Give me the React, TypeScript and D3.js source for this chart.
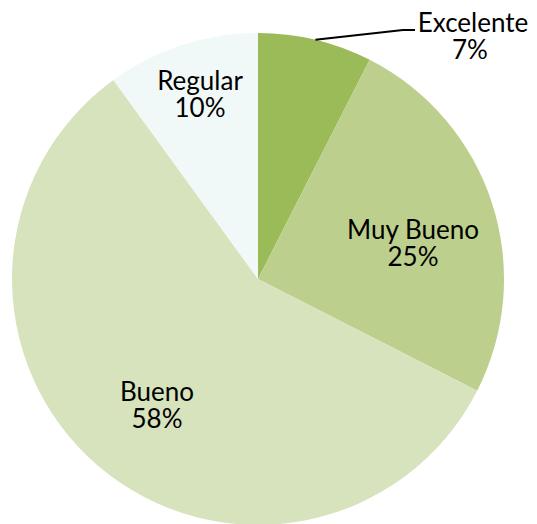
import React from "react";
import * as d3 from "d3";

const categories = ["Excelente", "Muy Bueno", "Bueno", "Regular"];
const values = [7.5, 25, 57.5, 10];
const labels = ["7%", "25%", "58%", "10%"];
const colors = ["#9bbb59", "#bccf8c", "#d7e3bc", "#f1f8f8"];

const W = 537;
const H = 524;
const cx = 258;
const cy = 279;
const R = 246;

// label baselines (text centers)
const labelPos: [number, number][] = [
  [473, 32],
  [413, 239],
  [157, 401],
  [200, 90],
];

export default function App() {
  const pie = d3.pie<number>().sort(null).value((d) => d)(values);
  const arc = d3.arc<d3.PieArcDatum<number>>().innerRadius(0).outerRadius(R);
  const font = "Lato, 'Open Sans', sans-serif";
  const a0 = (pie[0].startAngle + pie[0].endAngle) / 2;
  const px = cx + Math.sin(a0) * R;
  const py = cy - Math.cos(a0) * R;
  return (
    <svg
      width={W}
      height={H}
      style={{ position: "absolute", left: 0, top: 0, background: "#fff" }}
    >
      <g transform={`translate(${cx},${cy})`}>
        {pie.map((p, i) => (
          <path key={categories[i]} d={arc(p) || ""} fill={colors[i]} />
        ))}
      </g>
      <polyline
        points={`${px},${py} 403,30 415,30`}
        fill="none"
        stroke="#000"
        strokeWidth={2}
      />
      {categories.map((c, i) => (
        <text
          key={c}
          x={labelPos[i][0]}
          y={labelPos[i][1]}
          textAnchor="middle"
          fontFamily={font}
          fontSize={26}
          fill="#000"
        >
          <tspan x={labelPos[i][0]} dy={0}>{c}</tspan>
          <tspan x={labelPos[i][0] - (i === 0 ? 3 : 0)} dy={27}>{labels[i]}</tspan>
        </text>
      ))}
    </svg>
  );
}
